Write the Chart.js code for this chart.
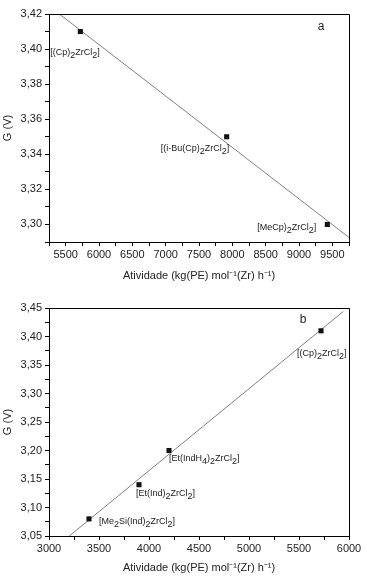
<!DOCTYPE html>
<html>
<head>
<meta charset="utf-8">
<script src="https://cdn.jsdelivr.net/npm/chart.js@4.4.1/dist/chart.umd.min.js"></script>
<style>
  body { margin: 0; background: #fff; }
  canvas { display: block; }
</style>
</head>
<body>
<canvas id="graficoA" width="367" height="290"></canvas>
<canvas id="graficoB" width="367" height="290"></canvas>
<script>
// painel a
const atividadeA = [5720, 7915, 9425]
const potencialA = [3.41, 3.35, 3.30]
const catalisadoresA = ['[(Cp)_2ZrCl_2]', '[(i-Bu(Cp)_2ZrCl_2]', '[MeCp)_2ZrCl_2]']
const ajusteXA = [5405, 9750]
const ajusteYA = [3.42, 3.2926]

// painel b
const atividadeB = [3400, 3900, 4200, 5720]
const potencialB = [3.08, 3.14, 3.20, 3.41]
const catalisadoresB = ['[Me_2Si(Ind)_2ZrCl_2]', '[Et(Ind)_2ZrCl_2]', '[Et(IndH_4)_2ZrCl_2]', '[(Cp)_2ZrCl_2]']
const ajusteXB = [3203, 5943]
const ajusteYB = [3.05, 3.444]

const tituloX = 'Atividade (kg(PE) mol⁻¹(Zr) h⁻¹)'
const tituloY = 'G (V)'

const fonte = 'Arial, "Liberation Sans", sans-serif'
const corTexto = '#222'

// desenha a moldura, os rótulos dos catalisadores e a letra do painel
const extras = {
  id: 'extras',
  afterDraw(chart, args, o) {
    const { ctx, chartArea: a } = chart
    const al = (p) => Math.round(p - 0.5) + 0.5
    ctx.save()
    ctx.strokeStyle = '#000'
    ctx.lineWidth = 1
    ctx.beginPath()
    ctx.moveTo(al(a.left), al(a.top))
    ctx.lineTo(al(a.right), al(a.top))
    ctx.lineTo(al(a.right), al(a.bottom))
    ctx.stroke()

    const meta = chart.getDatasetMeta(0)
    ctx.fillStyle = '#1a1a1a'
    ctx.textBaseline = 'middle'
    ctx.textAlign = 'left'
    o.nomes.forEach((nome, i) => {
      const pt = meta.data[i]
      let x = pt.x + o.pos[i][0]
      const y = pt.y + o.pos[i][1]
      nome.split(/(_.)/).forEach((parte) => {
        if (!parte) return
        if (parte[0] === '_') {
          ctx.font = '9px ' + fonte
          ctx.fillText(parte[1], x, y + 3)
          x += ctx.measureText(parte[1]).width
        } else {
          ctx.font = '9px ' + fonte
          ctx.fillText(parte, x, y)
          x += ctx.measureText(parte).width
        }
      })
    })

    ctx.font = '12px ' + fonte
    ctx.fillStyle = corTexto
    ctx.textAlign = 'center'
    ctx.fillText(o.letra, a.left + o.letraPos[0] * a.width, a.top + o.letraPos[1] * a.height)
    ctx.restore()
  },
}

const ehMaior = (v, passo) => Math.abs(Math.round(v / passo) * passo - v) < 1e-6

function grafico(id, c) {
  const pontos = c.xs.map((x, i) => ({ x: x, y: c.ys[i] }))
  const reta = c.ajX.map((x, i) => ({ x: x, y: c.ajY[i] }))

  new Chart(document.getElementById(id), {
    type: 'scatter',
    data: {
      datasets: [
        {
          data: pontos,
          pointStyle: 'rect',
          pointRadius: 3.6,
          pointBorderWidth: 0,
          backgroundColor: '#111',
          borderColor: '#111',
        },
        {
          type: 'line',
          data: reta,
          borderColor: '#808080',
          borderWidth: 1,
          pointRadius: 0,
          fill: false,
        },
      ],
    },
    options: {
      responsive: false,
      devicePixelRatio: 1,
      animation: false,
      events: [],
      layout: { padding: { top: c.topo, right: 18, left: 0, bottom: 0 } },
      plugins: {
        legend: { display: false },
        tooltip: { enabled: false },
        extras: { nomes: c.nomes, pos: c.pos, letra: c.letra, letraPos: c.letraPos },
      },
      scales: {
        x: {
          type: 'linear',
          min: c.xMin,
          max: c.xMax,
          border: { display: true, color: '#000', width: 1 },
          grid: { drawOnChartArea: false, drawTicks: true, tickLength: 4, color: '#000' },
          ticks: {
            stepSize: c.xPasso,
            maxTicksLimit: 1000,
            autoSkip: false,
            maxRotation: 0,
            padding: 2,
            color: corTexto,
            font: { family: fonte, size: 11 },
            callback: (v) => (ehMaior(v, c.xMaior) ? String(v) : ''),
          },
          title: {
            display: true,
            text: tituloX,
            color: corTexto,
            font: { family: fonte, size: 11 },
            padding: { top: 0, bottom: c.tituloPad },
          },
          afterFit: (s) => {
            s.height = c.alturaX
            s.paddingLeft = 0
            s.paddingRight = 0
          },
        },
        y: {
          type: 'linear',
          min: c.yMin,
          max: c.yMax,
          border: { display: true, color: '#000', width: 1 },
          grid: { drawOnChartArea: false, drawTicks: true, tickLength: 4, color: '#000' },
          ticks: {
            stepSize: c.yPasso,
            maxTicksLimit: 1000,
            autoSkip: false,
            padding: 3,
            color: corTexto,
            font: { family: fonte, size: 11 },
            callback: (v) => (ehMaior(v, c.yMaior) ? v.toFixed(2).replace('.', ',') : ''),
          },
          title: {
            display: true,
            text: tituloY,
            color: corTexto,
            font: { family: fonte, size: 11 },
            padding: { top: 1, bottom: 0 },
          },
          afterFit: (s) => {
            s.width = 49
            s.paddingTop = 0
            s.paddingBottom = 0
          },
        },
      },
    },
    plugins: [extras],
  })
}

grafico('graficoA', {
  xs: atividadeA, ys: potencialA, nomes: catalisadoresA,
  pos: [[-30, 21], [-66, 12], [-70, 3.5]],
  ajX: ajusteXA, ajY: ajusteYA,
  xMin: 5250, xMax: 9750, xPasso: 250, xMaior: 500,
  yMin: 3.29, yMax: 3.42, yPasso: 0.01, yMaior: 0.02,
  topo: 14, alturaX: 48, tituloPad: 7,
  letra: 'a', letraPos: [0.907, 0.057],
})

grafico('graficoB', {
  xs: atividadeB, ys: potencialB, nomes: catalisadoresB,
  pos: [[10, 2.5], [-3, 8.5], [0, 8.5], [-24, 23]],
  ajX: ajusteXB, ajY: ajusteYB,
  xMin: 3000, xMax: 6000, xPasso: 250, xMaior: 500,
  yMin: 3.05, yMax: 3.45, yPasso: 0.025, yMaior: 0.05,
  topo: 18, alturaX: 44, tituloPad: 5,
  letra: 'b', letraPos: [0.847, 0.05],
})
</script>
</body>
</html>
